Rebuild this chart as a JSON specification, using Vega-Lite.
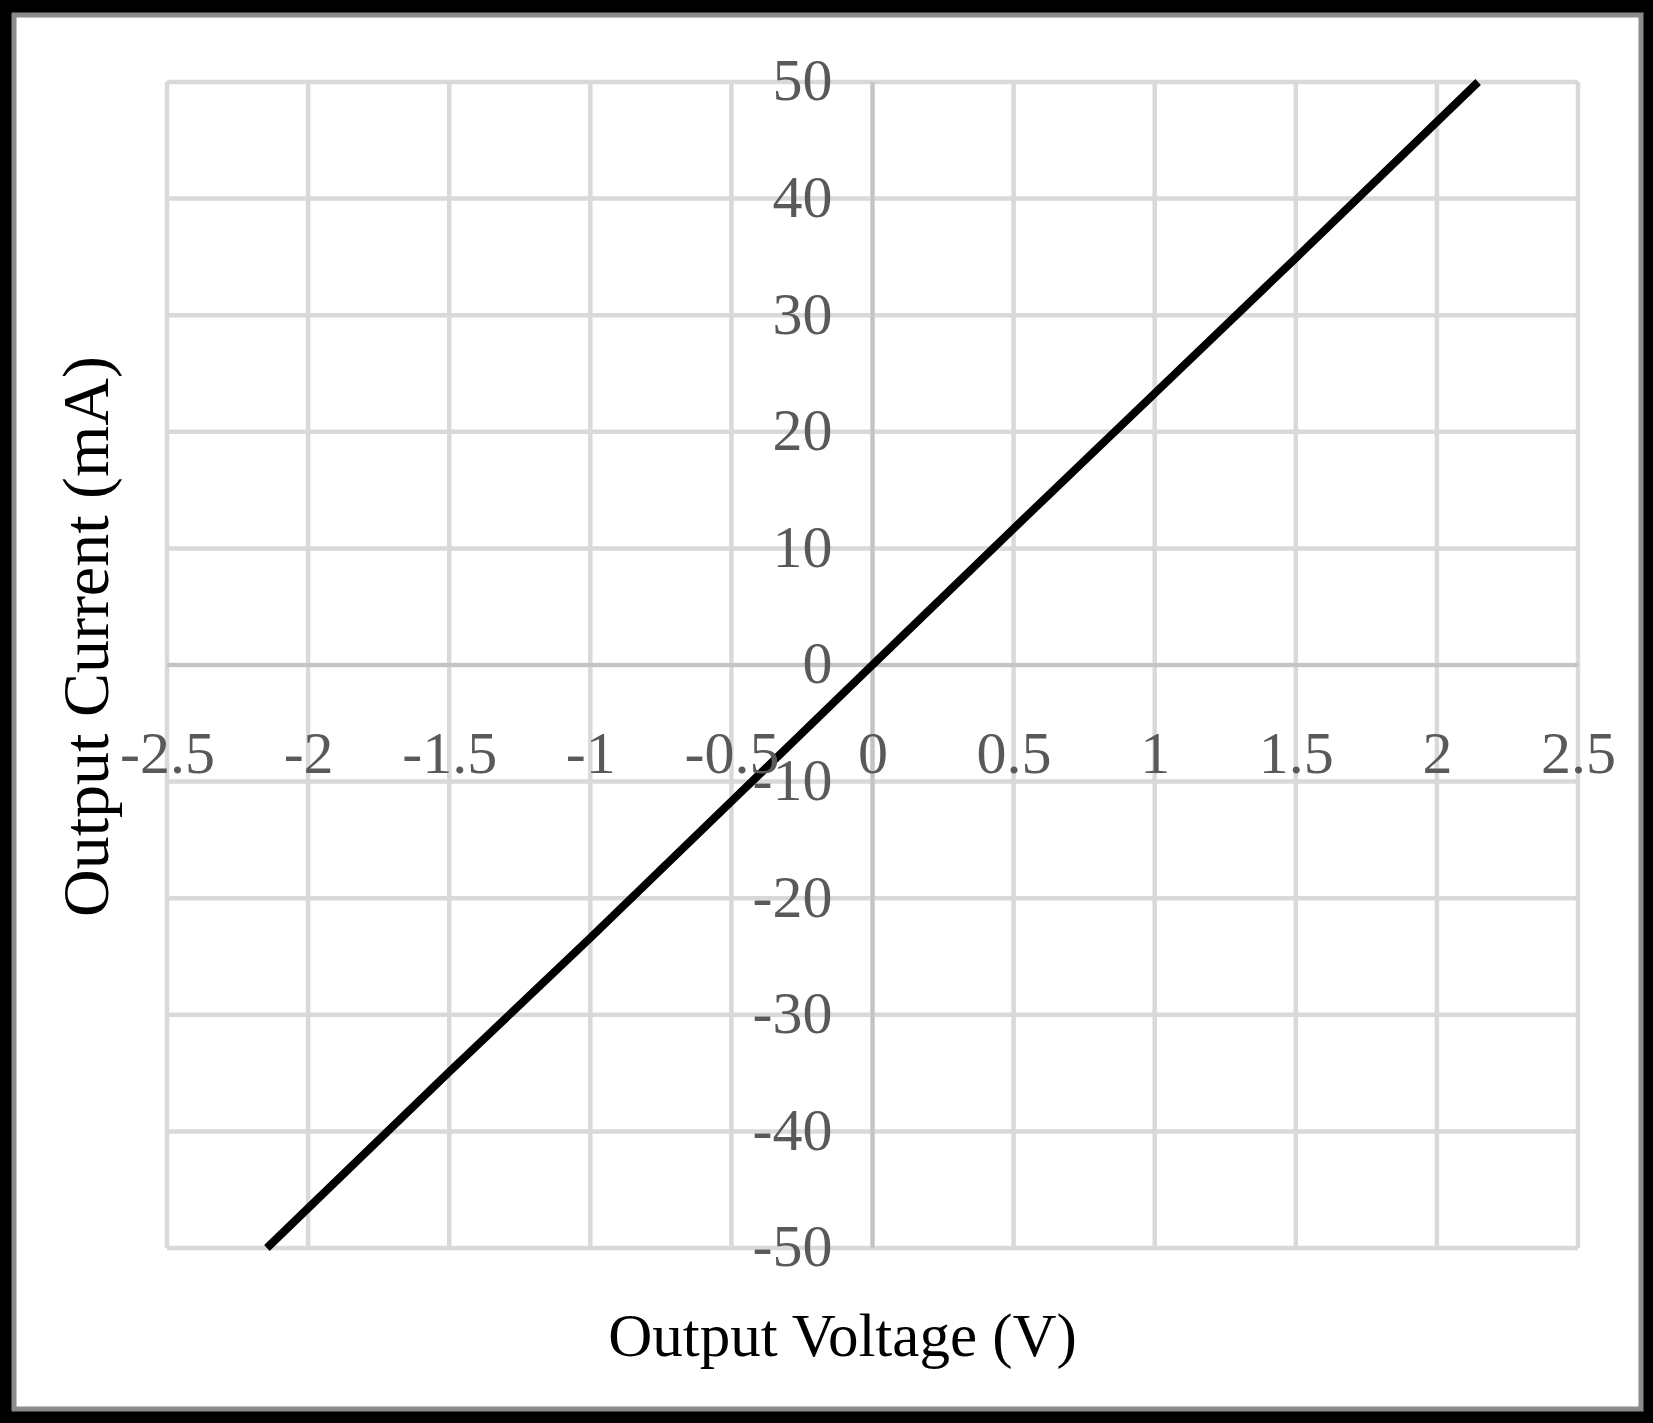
{
  "$schema": "https://vega.github.io/schema/vega-lite/v6.json",
  "autosize": {"type": "none"},
  "width": 1627,
  "height": 1394,
  "padding": {"left": 14, "top": 15, "right": 12, "bottom": 14},
  "background": "#000000",
  "view": {"fill": "#ffffff", "stroke": "#8c8c8c", "strokeWidth": 5},
  "datasets": {
    "iv": [
      {"V": -2.146, "I": -50},
      {"V": -1.5, "I": -34.9},
      {"V": -1.0, "I": -23.4},
      {"V": -0.5, "I": -11.7},
      {"V": 0, "I": 0},
      {"V": 0.5, "I": 11.7},
      {"V": 1.0, "I": 23.3},
      {"V": 1.5, "I": 34.9},
      {"V": 2.146, "I": 50}
    ],
    "xgrid": [
      {"v": -2.5}, {"v": -2}, {"v": -1.5}, {"v": -1}, {"v": -0.5}, {"v": 0},
      {"v": 0.5}, {"v": 1}, {"v": 1.5}, {"v": 2}, {"v": 2.5}
    ],
    "ygrid": [
      {"c": -50}, {"c": -40}, {"c": -30}, {"c": -20}, {"c": -10}, {"c": 0},
      {"c": 10}, {"c": 20}, {"c": 30}, {"c": 40}, {"c": 50}
    ]
  },
  "layer": [
    {
      "data": {"name": "xgrid"},
      "mark": {"type": "rule", "color": "#d9d9d9", "strokeWidth": 4.5},
      "encoding": {
        "x": {"field": "v", "type": "quantitative", "title": "Output Voltage (V)"},
        "y": {"datum": -50, "title": "Output Current (mA)"},
        "y2": {"datum": 50}
      }
    },
    {
      "data": {"name": "ygrid"},
      "mark": {"type": "rule", "color": "#d9d9d9", "strokeWidth": 4.5},
      "encoding": {
        "y": {"field": "c", "type": "quantitative", "title": "Output Current (mA)"},
        "x": {"datum": -2.5, "title": "Output Voltage (V)"},
        "x2": {"datum": 2.5}
      }
    },
    {
      "data": {"values": [{}]},
      "mark": {"type": "rule", "color": "#c4c4c4", "strokeWidth": 4},
      "encoding": {
        "x": {"datum": 0, "title": "Output Voltage (V)"},
        "y": {"datum": -50, "title": "Output Current (mA)"},
        "y2": {"datum": 50}
      }
    },
    {
      "data": {"values": [{}]},
      "mark": {"type": "rule", "color": "#c4c4c4", "strokeWidth": 4},
      "encoding": {
        "y": {"datum": 0, "title": "Output Current (mA)"},
        "x": {"datum": -2.5, "title": "Output Voltage (V)"},
        "x2": {"datum": 2.5}
      }
    },
    {
      "data": {"name": "iv"},
      "mark": {"type": "line", "color": "#000000", "strokeWidth": 8},
      "encoding": {
        "x": {
          "field": "V",
          "type": "quantitative",
          "title": "Output Voltage (V)",
          "scale": {"domain": [-3.0422, 2.7232], "nice": false, "zero": false},
          "axis": {
            "orient": "bottom",
            "offset": -744,
            "zindex": 1,
            "values": [-2.5, -2, -1.5, -1, -0.5, 0, 0.5, 1, 1.5, 2, 2.5],
            "labelExpr": "toString(datum.value)",
            "domain": false,
            "ticks": false,
            "tickSize": 0,
            "grid": false,
            "labelPadding": 107,
            "labelBaseline": "alphabetic",
            "labelAlign": "center",
            "labelFont": "Liberation Serif",
            "labelFontSize": 60,
            "labelColor": "#595959",
            "labelOverlap": false,
            "labelFlush": false,
            "labelBound": false,
            "titleX": 828,
            "titleY": 690,
            "titleAlign": "center",
            "titleBaseline": "alphabetic",
            "titleAngle": 0,
            "titleFont": "Liberation Serif",
            "titleFontSize": 61,
            "titleFontWeight": "normal",
            "titleColor": "#000000"
          }
        },
        "y": {
          "field": "I",
          "type": "quantitative",
          "title": "Output Current (mA)",
          "scale": {"domain": [-63.808, 55.746], "nice": false, "zero": false},
          "axis": {
            "orient": "left",
            "offset": -859,
            "zindex": 1,
            "values": [-50, -40, -30, -20, -10, 0, 10, 20, 30, 40, 50],
            "labelExpr": "toString(datum.value)",
            "domain": false,
            "ticks": false,
            "tickSize": 0,
            "grid": false,
            "labelPadding": 41,
            "labelBaseline": "middle",
            "labelAlign": "right",
            "labelFont": "Liberation Serif",
            "labelFontSize": 60,
            "labelColor": "#595959",
            "labelOverlap": false,
            "labelFlush": false,
            "labelBound": false,
            "titleX": -766,
            "titleY": 621,
            "titleAlign": "center",
            "titleBaseline": "alphabetic",
            "titleAngle": 270,
            "titleFont": "Liberation Serif",
            "titleFontSize": 66,
            "titleFontWeight": "normal",
            "titleColor": "#000000"
          }
        }
      }
    }
  ]
}
